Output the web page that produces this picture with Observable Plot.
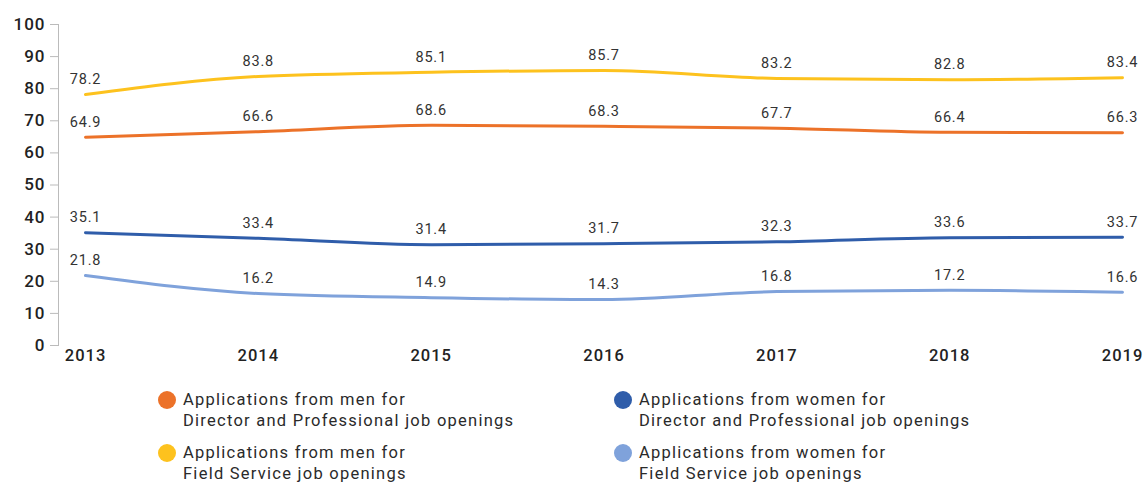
<!DOCTYPE html>
<html>
<head>
<meta charset="utf-8">
<script src="https://cdn.jsdelivr.net/npm/d3@7"></script>
<script src="https://cdn.jsdelivr.net/npm/@observablehq/plot@0.6"></script>
<style>
  body { margin: 0; background: #fff; font-family: Roboto, "Liberation Sans", sans-serif; }
  #chart svg { display: block; }
  .legend { position: relative; height: 110px; }
  .item { position: absolute; display: flex; align-items: flex-start; font-size: 16.5px; line-height: 21px; color: #2a2a2a; letter-spacing: 1.25px; }
  .dot { width: 18px; height: 18px; border-radius: 50%; margin-top: 2px; margin-right: 7px; flex: none; }
</style>
</head>
<body>
<div id="chart"></div>
<div class="legend" id="legend"></div>
<script>
const years = [2013, 2014, 2015, 2016, 2017, 2018, 2019];
const seriesNames = [
  "Applications from men for\nDirector and Professional job openings",
  "Applications from men for\nField Service job openings",
  "Applications from women for\nDirector and Professional job openings",
  "Applications from women for\nField Service job openings"
];
const seriesColors = ["#EC7229", "#FDC21E", "#2F5DAA", "#7FA2DB"];
const menDirector = [64.9, 66.6, 68.6, 68.3, 67.7, 66.4, 66.3];
const menField = [78.2, 83.8, 85.1, 85.7, 83.2, 82.8, 83.4];
const womenDirector = [35.1, 33.4, 31.4, 31.7, 32.3, 33.6, 33.7];
const womenField = [21.8, 16.2, 14.9, 14.3, 16.8, 17.2, 16.6];
const yTicks = [0, 10, 20, 30, 40, 50, 60, 70, 80, 90, 100];

const allSeries = [menDirector, menField, womenDirector, womenField];
const data = [];
allSeries.forEach((vals, si) => {
  vals.forEach((v, i) => data.push({ series: seriesNames[si], year: years[i], value: v }));
});

const chart = Plot.plot({
  width: 1144,
  height: 374,
  marginLeft: 58,
  marginRight: 22,
  marginTop: 24,
  marginBottom: 29,
  style: { fontFamily: "Roboto, 'Liberation Sans', sans-serif", color: "#2a2a2a" },
  x: { domain: [2013, 2019], insetLeft: 27, ticks: years, tickFormat: d => String(d) },
  y: { domain: [0, 100], ticks: yTicks },
  color: { domain: seriesNames, range: seriesColors },
  marks: [
    Plot.frame({ anchor: "left", stroke: "#bbb" }),
    Plot.axisY({ ticks: yTicks, tickSize: 8, tickPadding: 5, fontSize: 17, fontWeight: 500, stroke: "#bbb", label: null }),
    Plot.axisX({ ticks: years, tickSize: 0, tickPadding: 4, fontSize: 16.5, fontWeight: 500, label: null, tickFormat: d => String(d) }),
    Plot.line(data, { x: "year", y: "value", z: "series", stroke: "series", strokeWidth: 3, curve: "monotone-x" }),
    Plot.text(data, { x: "year", y: "value", text: d => d.value.toFixed(1), dy: -15, fontSize: 14.5, fill: "#333" })
  ]
});
chart.querySelectorAll('[aria-label="y-axis tick label"] text, [aria-label="x-axis tick label"] text').forEach(t => {
  t.setAttribute("fill", "#222");
  t.setAttribute("letter-spacing", "1px");
});
chart.querySelectorAll('[aria-label="text"] text').forEach(t => t.setAttribute("letter-spacing", "0.8px"));
document.getElementById("chart").appendChild(chart);

const pos = [
  { left: 158, top: 15 },
  { left: 158, top: 68 },
  { left: 614, top: 15 },
  { left: 614, top: 68 }
];
const legend = document.getElementById("legend");
seriesNames.forEach((name, i) => {
  const item = document.createElement("div");
  item.className = "item";
  item.style.left = pos[i].left + "px";
  item.style.top = pos[i].top + "px";
  const dot = document.createElement("span");
  dot.className = "dot";
  dot.style.background = seriesColors[i];
  const txt = document.createElement("span");
  txt.innerHTML = name.replace("\n", "<br>");
  item.appendChild(dot);
  item.appendChild(txt);
  legend.appendChild(item);
});
</script>
</body>
</html>
